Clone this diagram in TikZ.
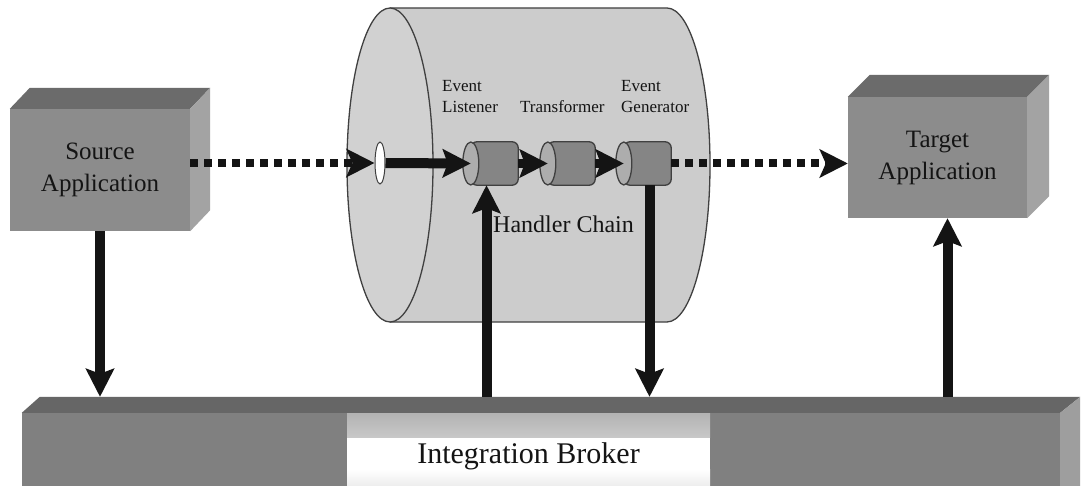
\documentclass[tikz,border=0pt]{standalone}
\usepackage{fontspec}
\setmainfont{Liberation Serif}
\usetikzlibrary{arrows.meta,calc,shapes.geometric}

\definecolor{boxfront}{gray}{0.55}
\definecolor{boxtop}{gray}{0.42}
\definecolor{boxside}{gray}{0.64}
\definecolor{barfront}{gray}{0.50}
\definecolor{bartopc}{gray}{0.40}
\definecolor{barside}{gray}{0.62}
\definecolor{pipebody}{gray}{0.80}
\definecolor{pipeface}{gray}{0.82}
\definecolor{hbody}{gray}{0.52}
\definecolor{hface}{gray}{0.68}
\definecolor{edgec}{gray}{0.25}
\definecolor{ink}{gray}{0.08}

\begin{document}
\begin{tikzpicture}[x=1pt,y=-1pt,
  appbox/.style={fill=boxfront, minimum width=180pt, minimum height=122pt,
    inner sep=0pt, align=center, text=ink, font=\fontsize{25}{32}\selectfont},
  lbl/.style={inner sep=0pt, align=left, text=ink, font=\fontsize{17}{21}\selectfont},
  chainslot/.style={minimum width=55pt, minimum height=43pt, inner sep=0pt},
  flow/.style={line width=10pt, draw=ink, -{Stealth[length=28pt,width=28pt,inset=5pt]}},
  hop/.style={line width=9pt, draw=ink, -{Stealth[length=28pt,width=28pt,inset=5pt]}},
  dotflow/.style={line width=8pt, draw=ink, dash pattern=on 8pt off 6pt,
    -{Stealth[length=28pt,width=28pt,inset=6pt]}},
  outline/.style={draw=edgec, line width=1.3pt}]

\clip (0,0) rectangle (1081,486);
\fill[white] (0,0) rectangle (1081,486);

% Integration Broker bar (front, top and end faces)
\node[fill=barfront, minimum width=1038pt, minimum height=87pt, inner sep=0pt] (bar) at (541,456.5) {};
\fill[bartopc] (bar.north west) -- ++(18,-16) -- ($(bar.north east)+(20,-16)$) -- (bar.north east) -- cycle;
\fill[barside] (bar.north east) -- ++(20,-16) -- ++(0,120) -- (bar.south east) -- cycle;
\coordinate (bartop) at ($(bar.north)+(0,-16)$);

% Broker label: white panel, grey fading in from the top edge and the bottom edge
\node[fill=white, minimum width=363pt, minimum height=86pt, inner sep=0pt, text=ink,
  font=\fontsize{30}{36}\selectfont,
  path picture={
    \shade[top color=gray!60, bottom color=white]
      (path picture bounding box.north west) rectangle ($(path picture bounding box.north east)+(0,24)$);
    \shade[top color=white, bottom color=gray!25]
      ($(path picture bounding box.south west)+(0,-30)$) rectangle (path picture bounding box.south east);
  }] (broker) at (528.5,456) {Integration Broker};

% Source application block
\node[appbox] (src) at (100,170) {Source\\Application};
\fill[boxtop] (src.north west) -- ++(20,-21) -- ($(src.north east)+(20,-21)$) -- (src.north east) -- cycle;
\fill[boxside] (src.north east) -- ++(20,-21) -- ($(src.south east)+(20,-21)$) -- (src.south east) -- cycle;

% Target application block
\node[appbox, minimum width=179pt, minimum height=121pt] (tgt) at (937.5,157.5) {Target\\Application};
\fill[boxtop] (tgt.north west) -- ++(22,-22) -- ($(tgt.north east)+(22,-22)$) -- (tgt.north east) -- cycle;
\fill[boxside] (tgt.north east) -- ++(22,-22) -- ($(tgt.south east)+(22,-22)$) -- (tgt.south east) -- cycle;

% Adapter cylinder
\filldraw[fill=pipebody, outline] (390,8) -- (667,8)
  arc[start angle=90, end angle=-90, x radius=43pt, y radius=157pt] -- (390,322);
\filldraw[fill=pipeface, outline] (390,165) ellipse[x radius=43pt, y radius=157pt];

\node[ellipse, draw=edgec, line width=1pt, fill=white, minimum width=10pt,
  minimum height=42pt, inner sep=0pt] (inlet) at (380,163) {};

% Handler chain cylinders
\foreach \n/\cx in {lis/490.5, tra/567.5, gen/643.5}{
  \node[chainslot] (\n) at (\cx,163.5) {};
  \filldraw[fill=hbody, outline, rounded corners=6pt] ($(\n.north west)+(8,0)$) rectangle (\n.south east);
  \filldraw[fill=hface, outline] ($(\n.west)+(8,0)$) ellipse[x radius=8pt, y radius=21.5pt];
}

% Labels
\node[lbl, anchor=north west] (evl) at (442,80) {Event\\Listener};
\node[lbl, anchor=base west] (trf) at (520,113) {Transformer};
\node[lbl, anchor=north west] (evg) at (621,80) {Event\\Generator};
\node[anchor=base west, inner sep=0pt, text=ink, font=\fontsize{24}{28}\selectfont] (hcl) at (493,233) {Handler Chain};

% Message flow
\draw[dotflow] (src.east |- inlet.west) -- (inlet.west);
\draw[flow] (inlet.east) -- ($(lis.west)+(8,0)$);
\draw[hop] (lis.east) -- ($(tra.west)+(8,0)$);
\draw[hop] (tra.east) -- ($(gen.west)+(8,0)$);
\draw[dotflow] (gen.east) -- (gen.east -| tgt.west);

% Broker connections
\coordinate (lisfoot) at ($(lis.south)+(-4,0)$);
\coordinate (genfoot) at ($(gen.south)+(6,0)$);
\coordinate (tgtfoot) at ($(tgt.south)+(10,0)$);
\draw[flow] (src.south) -- (src.south |- bartop);
\draw[flow] (bartop -| lisfoot) -- (lisfoot);
\draw[flow] (genfoot) -- (genfoot |- bartop);
\draw[flow] (bartop -| tgtfoot) -- (tgtfoot);
\end{tikzpicture}
\end{document}
